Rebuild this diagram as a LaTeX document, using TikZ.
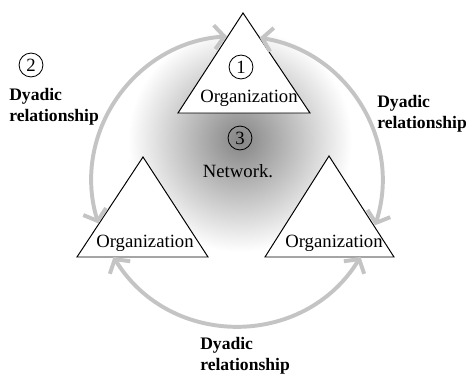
\documentclass[tikz,border=0pt]{standalone}
\usepackage{fontspec}
\setmainfont{Liberation Serif}
\usetikzlibrary{arrows.meta,calc}
\definecolor{arcgray}{RGB}{196,196,196}

\begin{document}
\begin{tikzpicture}[x=0.025cm, y=0.025cm,
  org/.style={draw, fill=white, line width=0.7pt, line join=miter},
  orgtext/.style={inner sep=0pt, anchor=base, font=\fontsize{13.3}{16}\selectfont},
  num/.style={draw, circle, line width=0.6pt, minimum size=17pt, inner sep=0pt, font=\fontsize{13.3}{16}\selectfont},
  dyadtext/.style={inner sep=0pt, anchor=north west, align=left, font=\fontsize{12.5}{15}\selectfont\bfseries},
  dyad/.style={draw=arcgray, line width=2.8pt, {Straight Barb[length=7pt,width=17pt]}-{Straight Barb[length=7pt,width=17pt]}}]

\useasboundingbox (0,0) rectangle (469,376);

\shade[inner color=black!48, outer color=white] (240,236) circle[radius=112];

\draw[org] (243,363) -- (178,263) -- (310,263) -- cycle;
\draw[org] (143,219) -- (77,119) -- (208,119) -- cycle;
\draw[org] (329,220) -- (265,119) -- (394,119) -- cycle;

\node[orgtext] (org1) at (249,273) {Organization};
\node[orgtext] (org2) at (145,128) {Organization};
\node[orgtext] (org3) at (334,128) {Organization};
\node[orgtext] (net) at (238,198) {Network.};

\node[num] (n1) at (241,309) {1};
\node[num] (n2) at (31,311) {2};
\node[num] (n3) at (240,238) {3};

\node[dyadtext] (d2) at (9,288) {Dyadic\\relationship};
\node[dyadtext] (d1) at (377,281) {Dyadic\\relationship};
\node[dyadtext] (d3) at (200,39) {Dyadic\\relationship};

\coordinate (O) at (237,195);
\coordinate (tl) at ($(O)+(94:145)$);
\coordinate (tr) at ($(O)+(81:145)$);
\coordinate (lt) at ($(O)+(197:145)$);
\coordinate (lb) at ($(O)+(211.6:145)$);
\coordinate (rb) at ($(O)+(328.4:145)$);
\coordinate (rt) at ($(O)+(342.2:145)$);

\draw[dyad] (tl) to[bend right=51.5, looseness=1.05] (lt);
\draw[dyad] (lb) to[bend right=58.4, looseness=1.12] (rb);
\draw[dyad] (rt) to[bend right=49.4, looseness=1.03] (tr);
\end{tikzpicture}
\end{document}
